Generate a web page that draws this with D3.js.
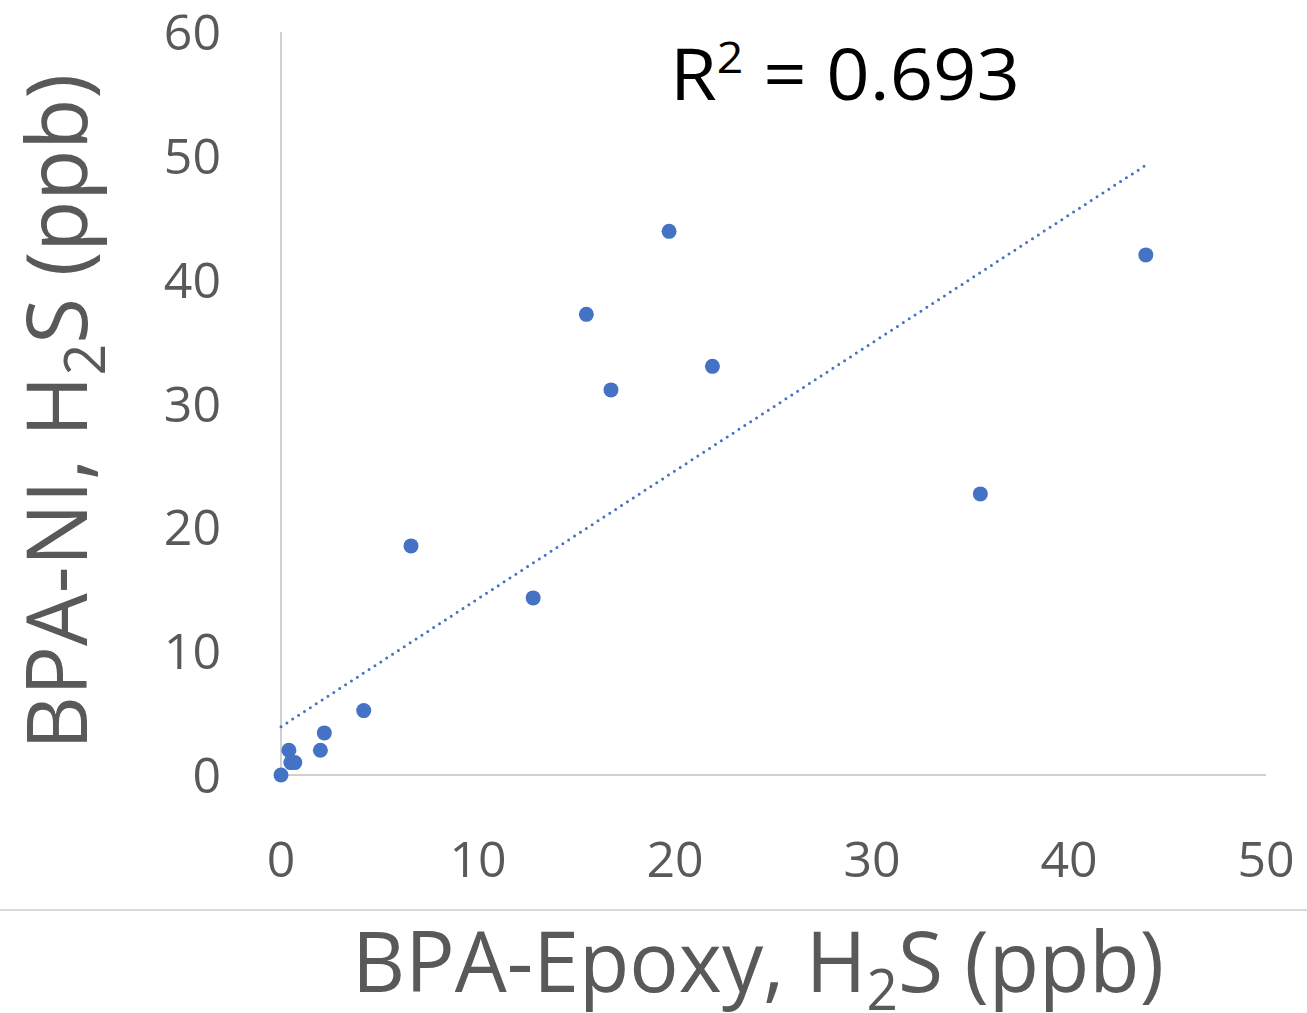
<!DOCTYPE html>
<html>
<head>
<meta charset="utf-8">
<script src="https://cdn.jsdelivr.net/npm/d3@7.9.0/dist/d3.min.js"></script>
<style>
  body { margin: 0; background: #fff; }
  svg { display: block; font-family: "Open Sans", "Noto Sans", sans-serif; }
</style>
</head>
<body>
<svg id="chart" width="1307" height="1013"></svg>
<script>
// data
const epoxy = [0, 0.4, 0.5, 0.7, 2.0, 2.2, 4.2, 6.6, 12.8, 15.5, 16.75, 19.7, 21.9, 35.5, 43.9];
const ni    = [0, 2.0, 1.0, 1.0, 2.0, 3.4, 5.2, 18.5, 14.3, 37.2, 31.1, 43.9, 33.0, 22.7, 42.0];
const xTicks = [0, 10, 20, 30, 40, 50];
const yTicks = [0, 10, 20, 30, 40, 50, 60];
// linear trendline as drawn (intercept, slope) and its R²
const trendIntercept = 3.9;
const trendSlope = 1.033;
const rSquared = '0.693';

const points = epoxy.map((x, i) => ({ x: x, y: ni[i] }));

const svg = d3.select('#chart');
const grey = '#595959';
const blue = '#4472c4';

let x = d3.scaleLinear().domain([0, 50]).range([281, 1266]);
let y = d3.scaleLinear().domain([0, 60]).range([775, 32]);

// axis lines
svg.append('line')
  .attr('x1', x(0)).attr('x2', x(0))
  .attr('y1', y(60)).attr('y2', y(0))
  .attr('stroke', '#d0d0d0').attr('stroke-width', 2);
svg.append('line')
  .attr('x1', x(0)).attr('x2', x(50))
  .attr('y1', y(0)).attr('y2', y(0))
  .attr('stroke', '#d0d0d0').attr('stroke-width', 2);

// tick labels
svg.selectAll('.ytick').data(yTicks).enter().append('text')
  .attr('class', 'ytick')
  .attr('x', 221)
  .attr('y', (d) => y(d))
  .attr('dy', '0.36em')
  .attr('text-anchor', 'end')
  .attr('font-size', 50)
  .attr('fill', grey)
  .text((d) => d);

svg.selectAll('.xtick').data(xTicks).enter().append('text')
  .attr('class', 'xtick')
  .attr('x', (d) => x(d))
  .attr('y', 877)
  .attr('text-anchor', 'middle')
  .attr('font-size', 50)
  .attr('fill', grey)
  .text((d) => d);

// separator under the plot
svg.append('line')
  .attr('x1', 0).attr('x2', 1307)
  .attr('y1', 910).attr('y2', 910)
  .attr('stroke', '#d9d9d9').attr('stroke-width', 2);

// trendline, dotted
const xMin = d3.min(epoxy), xMax = d3.max(epoxy);
const trend = [xMin, xMax].map((v) => ({ x: v, y: trendIntercept + trendSlope * v }));
svg.append('path')
  .datum(trend)
  .attr('d', d3.line().x((d) => x(d.x)).y((d) => y(d.y)))
  .attr('fill', 'none')
  .attr('stroke', blue)
  .attr('stroke-width', 3)
  .attr('stroke-linecap', 'round')
  .attr('stroke-dasharray', '0 7');

// points
svg.selectAll('circle').data(points).enter().append('circle')
  .attr('cx', (d) => x(d.x))
  .attr('cy', (d) => y(d.y))
  .attr('r', 7.5)
  .attr('fill', blue);

// R² label
const r2 = svg.append('text')
  .attr('x', 670).attr('y', 100)
  .attr('font-size', 72)
  .attr('fill', '#000')
  .attr('textLength', 350)
  .attr('lengthAdjust', 'spacingAndGlyphs');
r2.append('tspan').text('R');
r2.append('tspan').attr('font-size', 44).attr('dy', -27).text('2');
r2.append('tspan').attr('dy', 27).text(' = ' + rSquared);

// axis titles
const xTitle = svg.append('text')
  .attr('x', 352).attr('y', 992)
  .attr('font-size', 84)
  .attr('fill', grey)
  .attr('textLength', 812)
  .attr('lengthAdjust', 'spacingAndGlyphs');
xTitle.append('tspan').text('BPA-Epoxy, H');
xTitle.append('tspan').attr('font-size', 56).attr('dy', 18).text('2');
xTitle.append('tspan').attr('dy', -18).text('S (ppb)');

const yTitle = svg.append('text')
  .attr('transform', 'translate(87,750) rotate(-90)')
  .attr('font-size', 84)
  .attr('fill', grey)
  .attr('textLength', 676)
  .attr('lengthAdjust', 'spacingAndGlyphs');
yTitle.append('tspan').text('BPA-NI, H');
yTitle.append('tspan').attr('font-size', 56).attr('dy', 18).text('2');
yTitle.append('tspan').attr('dy', -18).text('S (ppb)');
</script>
</body>
</html>
